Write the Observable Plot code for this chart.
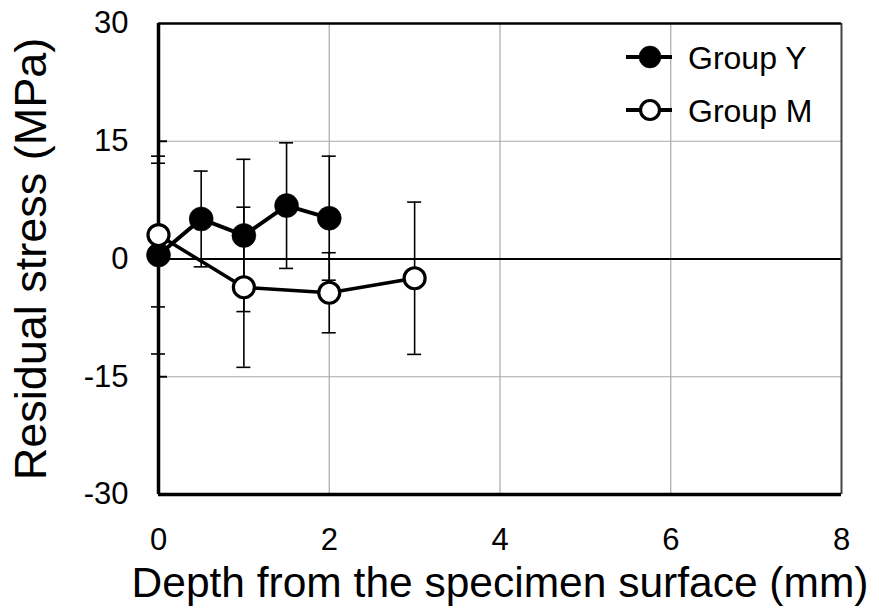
<!DOCTYPE html>
<html>
<head>
<meta charset="utf-8">
<script src="https://cdn.jsdelivr.net/npm/d3@7"></script>
<script src="https://cdn.jsdelivr.net/npm/@observablehq/plot@0.6"></script>
<style>
  html, body { margin: 0; padding: 0; background: #fff; }
  #wrap { position: relative; width: 879px; height: 616px; font-family: "Liberation Sans", Arial, sans-serif; }
  #legend { position: absolute; left: 0; top: 0; pointer-events: none; }
</style>
</head>
<body>
<div id="wrap"></div>
<script>
// Data
const depthY = [0, 0.5, 1, 1.5, 2];
const meanY  = [0.5, 5.1, 3.0, 6.8, 5.2];
const sdY    = [12.6, 6.1, 9.7, 8.0, 7.9];

const depthM = [0, 1, 2, 3];
const meanM  = [3.05, -3.6, -4.3, -2.45];
const sdM    = [9.15, 10.2, 5.1, 9.7];

const xTicks = [0, 2, 4, 6, 8];
const yTicks = [-30, -15, 0, 15, 30];
const seriesNames = ["Group Y", "Group M"];
const xTitle = "Depth from the specimen surface (mm)";
const yTitle = "Residual stress (MPa)";

const groupY = depthY.map((d, i) => ({depth: d, mean: meanY[i], sd: sdY[i]}));
const groupM = depthM.map((d, i) => ({depth: d, mean: meanM[i], sd: sdM[i]}));
const all = [...groupY, ...groupM];
const caps = all.flatMap(d => [{depth: d.depth, v: d.mean + d.sd}, {depth: d.depth, v: d.mean - d.sd}]);

const font = "Liberation Sans, Arial, sans-serif";
const fmt = d => String(d);

const chart = Plot.plot({
  width: 879,
  height: 616,
  marginLeft: 158,
  marginRight: 38,
  marginTop: 23,
  marginBottom: 122,
  style: {fontFamily: font, background: "white", color: "black", overflow: "visible"},
  x: {domain: [0, 8], ticks: xTicks},
  y: {domain: [-30, 30], ticks: yTicks},
  marks: [
    Plot.gridX(xTicks.filter(t => t > 0 && t < 8), {stroke: "#a8a8a8", strokeOpacity: 1, strokeWidth: 1.2}),
    Plot.gridY(yTicks.filter(t => t !== 0 && Math.abs(t) < 30), {stroke: "#a8a8a8", strokeOpacity: 1, strokeWidth: 1.2}),
    Plot.ruleY([0], {stroke: "black", strokeWidth: 2}),
    // frame
    Plot.ruleX([8], {stroke: "#444", strokeWidth: 2}),
    Plot.ruleY([30], {stroke: "black", strokeWidth: 2.5}),
    Plot.ruleY([-30], {stroke: "black", strokeWidth: 3.5}),
    Plot.ruleX([0], {stroke: "black", strokeWidth: 3.5}),
    // axes
    Plot.axisX({ticks: xTicks, tickSize: 0, tickPadding: 33, fontSize: 31, tickFormat: fmt, label: null}),
    Plot.axisY({ticks: yTicks, tickSize: 0, tickPadding: 30, fontSize: 31, tickFormat: fmt, label: null}),
    Plot.axisY({ticks: yTicks.filter(t => Math.abs(t) === 15), tickSize: -9, text: null, label: null, strokeWidth: 2}),
    // error bars
    Plot.ruleX(all, {x: "depth", y1: d => d.mean - d.sd, y2: d => d.mean + d.sd, stroke: "black", strokeWidth: 1.6}),
    Plot.ruleY(caps, {y: "v", x1: "depth", x2: "depth", insetLeft: -7, insetRight: -7, stroke: "black", strokeWidth: 1.6}),
    // lines
    Plot.line(groupY, {x: "depth", y: "mean", stroke: "black", strokeWidth: 4}),
    Plot.line(groupM, {x: "depth", y: "mean", stroke: "black", strokeWidth: 3.5}),
    // points
    Plot.dot(groupY, {x: "depth", y: "mean", r: 12, fill: "black", stroke: "black", strokeWidth: 0.5}),
    Plot.dot(groupM, {x: "depth", y: "mean", r: 10.5, fill: "white", stroke: "black", strokeWidth: 3.2}),
    // titles
    Plot.text([xTitle], {text: d => d, frameAnchor: "bottom", dy: 89, fontSize: 42.5, textAnchor: "middle", lineAnchor: "middle", fill: "black"}),
    Plot.text([yTitle], {text: d => d, frameAnchor: "left", dx: -127, rotate: -90, fontSize: 45, textAnchor: "middle", lineAnchor: "middle", fill: "black"})
  ]
});

const wrap = document.getElementById("wrap");
wrap.appendChild(chart);

// Legend overlay
const ns = "http://www.w3.org/2000/svg";
const leg = document.createElementNS(ns, "svg");
leg.setAttribute("id", "legend");
leg.setAttribute("width", 879);
leg.setAttribute("height", 616);
const rows = [
  {name: seriesNames[0], y: 57, filled: true},
  {name: seriesNames[1], y: 110, filled: false}
];
rows.forEach(r => {
  const ln = document.createElementNS(ns, "line");
  ln.setAttribute("x1", 626); ln.setAttribute("x2", 672);
  ln.setAttribute("y1", r.y); ln.setAttribute("y2", r.y);
  ln.setAttribute("stroke", "black"); ln.setAttribute("stroke-width", 4);
  leg.appendChild(ln);
  const c = document.createElementNS(ns, "circle");
  c.setAttribute("cx", 650); c.setAttribute("cy", r.y);
  c.setAttribute("r", r.filled ? 11 : 9.5);
  c.setAttribute("fill", r.filled ? "black" : "white");
  c.setAttribute("stroke", "black");
  c.setAttribute("stroke-width", r.filled ? 0.5 : 3.2);
  leg.appendChild(c);
  const t = document.createElementNS(ns, "text");
  t.setAttribute("x", 688); t.setAttribute("y", r.y);
  t.setAttribute("dy", "0.36em");
  t.setAttribute("font-size", 32);
  t.setAttribute("font-family", font);
  t.setAttribute("fill", "black");
  t.textContent = r.name;
  leg.appendChild(t);
});
wrap.appendChild(leg);
</script>
</body>
</html>
